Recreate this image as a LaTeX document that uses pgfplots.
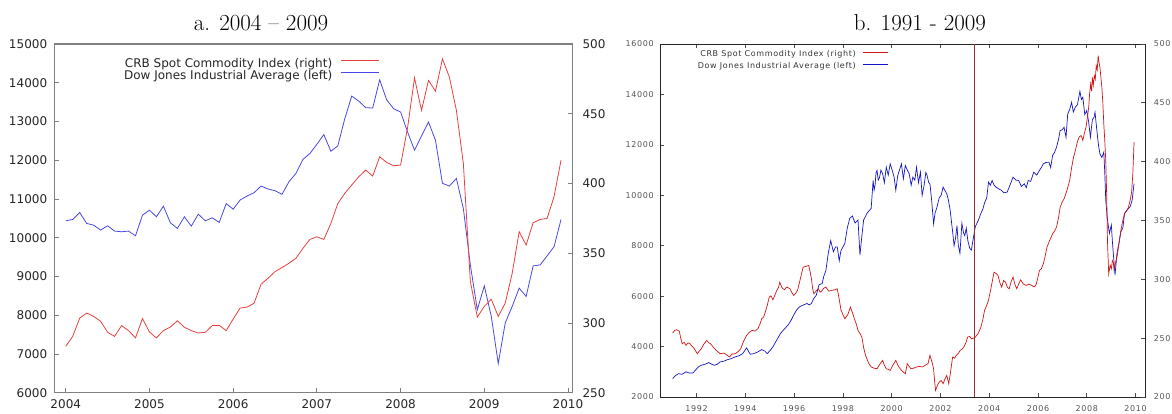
\documentclass[border=0pt]{standalone}
\usepackage{fontspec}
\usepackage{pgfplots}
\pgfplotsset{compat=1.18}
\usepackage{pgfplotstable}
\newfontfamily\djv{DejaVu Sans}
\newfontfamily\djvw[LetterSpace=8]{DejaVu Sans}
\definecolor{ared}{RGB}{232,64,64}
\definecolor{ablue}{RGB}{72,72,230}
\definecolor{bred}{RGB}{210,20,20}
\definecolor{bblue}{RGB}{20,20,200}
\definecolor{vline}{RGB}{150,50,50}
\definecolor{agray}{RGB}{128,128,128}
\definecolor{btext}{RGB}{85,85,85}

\pgfplotstableread{
i dj crb
0 10437 283.3
1 10471 290.4
2 10651 303.5
3 10368 307.1
4 10325 304.7
5 10197 301.2
6 10308 293.3
7 10171 290.4
8 10154 298.1
9 10171 294.5
10 10051 289.3
11 10582 303.1
12 10711 293.5
13 10540 289.3
14 10814 294.5
15 10385 297.1
16 10240 301.6
17 10540 296.9
18 10300 294.5
19 10608 292.8
20 10437 293.3
21 10514 298.1
22 10394 298.3
23 10882 294.5
24 10735 302.8
25 10974 310.7
26 11077 311.4
27 11163 314.2
28 11334 327.8
29 11257 332.1
30 11214 336.8
31 11120 339.7
32 11446 342.8
33 11660 346.4
34 12020 353.5
35 12174 359.9
36 12413 361.8
37 12662 359.9
38 12233 371.3
39 12370 385.6
40 13073 392.9
41 13655 398.9
42 13527 404.8
43 13356 409.6
44 13347 405.3
45 14075 419.1
46 13561 415.1
47 13330 412.7
48 13244 413.2
49 12730 440.0
50 12259 475.7
51 12627 452.4
52 12987 473.8
53 12516 466.2
54 11403 489.3
55 11334 476.2
56 11531 452.4
57 10750 414.3
58 9300 329.7
59 8140 304.2
60 8758 311.9
61 7970 317.0
62 6754 304.7
63 7799 314.2
64 8227 335.6
65 8698 365.4
66 8484 355.9
67 9272 371.8
68 9298 374.2
69 9529 374.9
70 9769 390.6
71 10471 416.7
}\dataA

\pgfplotstableread{
x y
1991.02 2730
1991.14 2850
1991.26 2927
1991.40 2900
1991.57 3000
1991.70 2950
1991.85 2955
1991.95 3060
1992.08 3200
1992.19 3258
1992.35 3300
1992.50 3364
1992.62 3300
1992.73 3258
1992.85 3300
1992.96 3390
1993.12 3420
1993.27 3483
1993.42 3520
1993.58 3590
1993.75 3640
1993.89 3722
1994.05 3947
1994.20 3695
1994.35 3720
1994.51 3788
1994.67 3880
1994.80 3820
1994.90 3722
1995.02 3850
1995.13 3987
1995.28 4250
1995.44 4516
1995.60 4700
1995.75 4848
1995.88 5050
1995.98 5245
1996.10 5450
1996.22 5576
1996.38 5650
1996.53 5709
1996.62 5650
1996.71 5709
1996.80 5900
1996.91 6040
1997.02 6450
1997.15 6500
1997.22 6800
1997.30 7000
1997.40 7700
1997.50 8200
1997.61 7760
1997.70 7950
1997.77 7950
1997.85 7400
1997.92 7800
1998.00 7950
1998.08 8090
1998.18 8700
1998.28 9086
1998.39 9180
1998.50 8900
1998.62 9020
1998.70 7630
1998.78 8400
1998.85 9020
1999.00 9300
1999.16 9480
1999.24 10588
1999.28 10200
1999.32 10400
1999.36 10900
1999.40 10984
1999.45 10600
1999.50 10700
1999.56 11000
1999.63 10852
1999.70 10500
1999.78 11116
1999.86 10800
1999.94 11248
2000.02 11000
2000.10 10720
2000.17 10200
2000.25 10786
2000.32 11000
2000.40 11248
2000.48 10650
2000.56 11182
2000.64 11000
2000.72 10852
2000.80 10400
2000.87 10720
2000.95 10600
2001.02 11116
2001.10 10500
2001.18 10918
2001.25 10000
2001.33 10390
2001.40 10900
2001.45 10800
2001.52 10500
2001.57 10456
2001.64 9800
2001.72 8861
2001.78 9300
2001.85 9500
2001.95 9900
2002.03 10000
2002.11 10324
2002.18 10200
2002.26 10060
2002.33 9800
2002.40 9400
2002.50 8556
2002.56 8000
2002.62 8300
2002.68 8800
2002.73 8026
2002.80 7700
2002.88 8887
2002.95 8500
2003.00 8400
2003.06 8700
2003.12 8225
2003.20 7900
2003.27 7828
2003.35 8300
2003.43 8755
2003.55 9000
2003.66 9285
2003.74 9450
2003.81 9700
2003.90 9900
2003.97 10522
2004.05 10400
2004.12 10588
2004.20 10400
2004.28 10324
2004.40 10250
2004.51 10192
2004.60 10100
2004.74 10126
2004.85 10400
2004.98 10720
2005.10 10600
2005.21 10588
2005.32 10350
2005.44 10456
2005.52 10300
2005.60 10588
2005.70 10550
2005.83 10918
2005.95 10800
2006.06 10984
2006.14 11100
2006.22 11248
2006.33 11300
2006.45 11314
2006.52 11100
2006.60 11578
2006.68 11700
2006.76 11908
2006.84 12200
2006.91 12568
2007.00 12600
2007.07 12700
2007.15 12300
2007.22 13228
2007.30 13400
2007.38 13690
2007.45 13300
2007.53 13492
2007.62 13600
2007.72 14126
2007.78 13800
2007.84 13888
2007.92 13200
2008.00 13360
2008.08 12898
2008.15 12300
2008.23 12990
2008.30 13100
2008.34 13294
2008.43 12436
2008.48 12000
2008.54 11644
2008.62 11500
2008.70 11710
2008.74 10900
2008.78 9796
2008.85 9020
2008.93 8490
2009.01 8821
2009.05 8200
2009.09 7695
2009.16 6834
2009.24 7695
2009.32 8100
2009.40 8556
2009.48 8700
2009.55 9285
2009.64 9400
2009.78 9550
2009.86 9800
2009.94 10456
}\djiaB

\pgfplotstableread{
x y
1991.02 254.3
1991.10 256.5
1991.18 257.2
1991.29 256.0
1991.35 250.0
1991.41 245.3
1991.49 246.5
1991.57 243.9
1991.65 246.0
1991.72 245.3
1991.80 243.5
1991.88 241.9
1992.03 236.8
1992.11 239.0
1992.19 241.0
1992.30 245.0
1992.42 248.1
1992.50 246.0
1992.57 245.3
1992.70 242.0
1992.81 239.6
1992.90 238.0
1992.96 236.8
1993.12 237.3
1993.25 235.5
1993.35 234.0
1993.45 236.5
1993.58 236.8
1993.70 238.5
1993.81 241.0
1993.92 247.0
1994.05 252.3
1994.16 255.0
1994.28 256.6
1994.40 256.0
1994.51 258.0
1994.60 262.0
1994.67 266.5
1994.75 268.0
1994.82 272.2
1994.90 278.0
1994.98 284.9
1995.05 286.0
1995.13 282.6
1995.22 287.0
1995.29 290.6
1995.36 293.0
1995.41 297.6
1995.50 293.0
1995.60 291.1
1995.70 293.5
1995.83 292.0
1995.90 289.0
1995.98 286.3
1996.06 288.0
1996.14 290.6
1996.25 300.0
1996.37 310.4
1996.48 311.0
1996.60 311.8
1996.66 306.0
1996.71 300.5
1996.76 292.0
1996.81 287.7
1996.90 290.0
1996.99 292.0
1997.07 289.0
1997.15 290.6
1997.22 292.5
1997.30 293.4
1997.42 290.0
1997.53 290.6
1997.65 291.0
1997.77 292.0
1997.85 283.0
1997.92 274.1
1998.00 270.0
1998.08 266.5
1998.20 270.0
1998.31 276.4
1998.40 271.0
1998.47 266.5
1998.55 262.0
1998.62 256.6
1998.70 254.0
1998.78 250.9
1998.85 242.0
1998.93 235.4
1999.05 229.0
1999.16 225.5
1999.28 224.5
1999.40 224.0
1999.52 228.0
1999.63 231.1
1999.70 227.0
1999.78 224.0
1999.86 223.5
1999.94 222.6
2000.05 227.0
2000.17 231.1
2000.28 226.0
2000.40 222.6
2000.48 221.0
2000.56 219.8
2000.60 224.0
2000.64 228.3
2000.72 226.0
2000.79 224.0
2000.90 224.5
2001.02 225.5
2001.14 226.0
2001.26 225.5
2001.38 227.0
2001.49 228.3
2001.57 235.4
2001.65 230.0
2001.72 224.0
2001.76 214.0
2001.80 205.6
2001.88 210.0
2001.95 212.7
2002.03 214.0
2002.11 211.3
2002.18 215.0
2002.26 218.4
2002.34 211.3
2002.42 222.0
2002.50 234.0
2002.58 233.0
2002.65 235.4
2002.73 237.0
2002.81 239.6
2002.88 240.5
2002.96 242.4
2003.04 246.0
2003.12 250.9
2003.20 251.5
2003.27 249.5
2003.35 250.0
2003.43 250.9
2003.55 254.0
2003.66 259.4
2003.74 266.0
2003.81 273.6
2003.90 278.0
2003.97 282.1
2004.05 290.0
2004.12 297.6
2004.20 306.1
2004.28 305.0
2004.36 303.3
2004.44 297.0
2004.51 293.4
2004.59 299.0
2004.67 297.6
2004.75 293.0
2004.82 292.0
2004.90 298.0
2004.98 301.9
2005.05 296.0
2005.13 292.0
2005.21 296.0
2005.29 299.6
2005.40 296.0
2005.52 294.8
2005.63 296.0
2005.75 294.8
2005.83 293.5
2005.91 294.8
2005.98 300.0
2006.06 307.5
2006.14 309.0
2006.22 313.2
2006.30 320.0
2006.37 327.4
2006.48 333.0
2006.60 338.7
2006.68 341.0
2006.76 344.3
2006.84 352.0
2006.91 361.3
2007.00 366.0
2007.07 368.4
2007.18 375.0
2007.30 384.0
2007.38 395.0
2007.46 403.8
2007.54 410.0
2007.61 416.5
2007.69 421.0
2007.77 422.2
2007.84 418.0
2007.90 424.0
2007.97 429.2
2008.03 438.0
2008.08 446.2
2008.12 458.0
2008.16 466.0
2008.20 460.0
2008.23 471.7
2008.27 465.0
2008.31 473.1
2008.35 470.0
2008.39 481.6
2008.43 478.0
2008.47 490.1
2008.50 485.0
2008.54 480.2
2008.58 472.0
2008.62 463.2
2008.66 450.0
2008.70 432.1
2008.74 418.0
2008.78 400.9
2008.82 370.0
2008.85 333.0
2008.90 304.7
2008.96 312.0
2009.01 309.0
2009.05 316.0
2009.09 314.6
2009.12 308.0
2009.16 311.8
2009.20 316.0
2009.24 318.9
2009.32 330.0
2009.40 341.5
2009.48 350.0
2009.55 355.7
2009.63 358.0
2009.71 361.3
2009.78 367.0
2009.84 374.0
2009.89 389.6
2009.94 416.5
}\crbB

\pgfplotsset{
  panelA/.style={scale only axis, width=518.4pt, height=348.7pt,
    at={(54.3pt,21.3pt)}, anchor=south west,
    xmin=2003.863, xmax=2010.056,
    scaled y ticks=false, scaled x ticks=false,
    axis line style={agray, line width=1.1pt},
    tick style={agray, line width=0.9pt},
    major tick length=5pt, minor tick length=3pt,
    tick label style={font=\djv\fontsize{12}{12}\selectfont, text=black!85},
    /pgf/number format/1000 sep={},
    /pgf/number format/assume math mode=true},
  panelB/.style={scale only axis, width=485pt, height=353pt,
    at={(660pt,17pt)}, anchor=south west,
    xmin=1990.50, xmax=2010.39,
    scaled y ticks=false, scaled x ticks=false,
    axis line style={black!85, line width=0.9pt},
    tick style={black!70, line width=0.7pt},
    major tick length=4pt,
    tick label style={font=\djvw\fontsize{8}{8}\selectfont, text=btext},
    /pgf/number format/1000 sep={},
    /pgf/number format/assume math mode=true}
}

\begin{document}
\begin{tikzpicture}[x=1pt,y=1pt]
\path[use as bounding box] (0,0) rectangle (1172,414);

% ---------------- Panel a ----------------
\begin{axis}[panelA, ymin=6000, ymax=15000,
  ytick={6000,7000,...,15000}, xtick={2004,...,2010}, minor x tick num=11,
  xtick pos=bottom, ytick pos=left, tick align=inside,
  yticklabel style={xshift=-3.6pt}, xticklabel style={yshift=-3.3pt}]
\addplot[ablue, line width=0.8pt] table[x expr=2004+\thisrow{i}/12, y=dj] {\dataA};
\end{axis}
\begin{axis}[panelA, ymin=250, ymax=500, ytick={250,300,...,500},
  axis x line=none, axis y line*=right, ytick pos=right, tick align=inside,
  yticklabel style={xshift=6.3pt},
  legend style={at={(0.627,0.958)}, anchor=north east, draw=none, fill=none,
    inner sep=0pt, outer sep=0pt, font=\djv\fontsize{12}{12}\selectfont,
    text=black!85, row sep=1pt, nodes={inner sep=0pt},
    /tikz/every odd column/.style={column sep=8.7pt}},
  legend cell align=right, legend plot pos=right,
  legend image code/.code={\draw[#1] (0pt,3.2pt) -- (37.6pt,3.2pt);}]
\addplot[ared, line width=0.8pt] table[x expr=2004+\thisrow{i}/12, y=crb] {\dataA};
\addlegendentry{CRB Spot Commodity Index (right)}
\addlegendimage{ablue, line width=0.8pt}
\addlegendentry{Dow Jones Industrial Average (left)}
\end{axis}

% ---------------- Panel b ----------------
\begin{axis}[panelB, ymin=2000, ymax=16000,
  ytick={2000,4000,...,16000}, xtick={1992,1994,...,2010},
  xtick pos=both, ytick pos=left, tick align=inside,
  yticklabel style={xshift=-2.8pt}, xticklabel style={yshift=-4.6pt}]
\addplot[bblue, line width=0.7pt] table[x=x, y=y] {\djiaB};
\addplot[vline, line width=1.5pt] coordinates {(2003.4,2000) (2003.4,16000)};
\end{axis}
\begin{axis}[panelB, ymin=200, ymax=500, ytick={200,250,...,500},
  axis x line=none, axis y line*=right, ytick pos=right, tick align=inside,
  yticklabel style={xshift=5.3pt},
  legend style={at={(0.470,0.982)}, anchor=north east, draw=none, fill=none,
    inner sep=0pt, outer sep=0pt, font=\djvw\fontsize{8}{8}\selectfont,
    text=black!80, row sep=4.6pt, nodes={inner sep=0pt},
    /tikz/every odd column/.style={column sep=6.3pt}},
  legend cell align=right, legend plot pos=right,
  legend image code/.code={\draw[#1] (0pt,2.2pt) -- (25pt,2.2pt);}]
\addplot[bred, line width=0.7pt] table[x=x, y=y] {\crbB};
\addlegendentry{CRB Spot Commodity Index (right)}
\addlegendimage{bblue, line width=0.9pt}
\addlegendentry{Dow Jones Industrial Average (left)}
\end{axis}

% titles
\node[font=\fontsize{23}{23}\selectfont] at (261,391) {a. 2004 -- 2009};
\node[font=\fontsize{23}{23}\selectfont] at (920,391) {b. 1991 - 2009};
\end{tikzpicture}
\end{document}
